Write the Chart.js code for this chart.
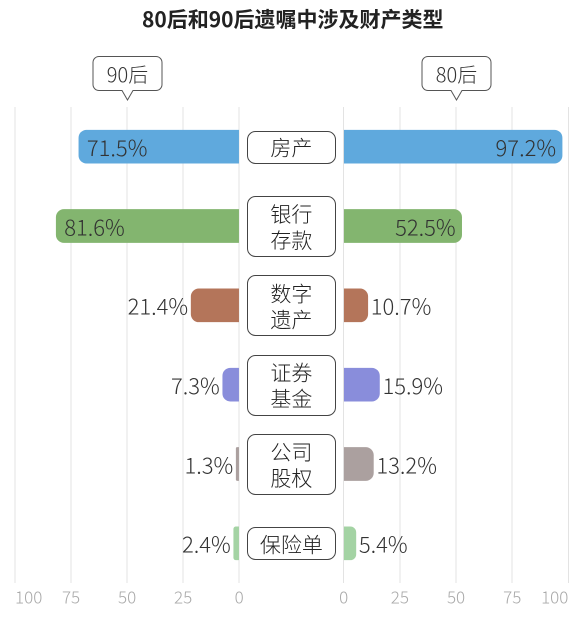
<!DOCTYPE html>
<html>
<head>
<meta charset="utf-8">
<script src="https://cdn.jsdelivr.net/npm/chart.js@4/dist/chart.umd.min.js"></script>
<style>
html,body{margin:0;padding:0;background:#fff;}
#wrap{width:586px;height:622px;}
</style>
</head>
<body>
<div id="wrap"><canvas id="c" width="586" height="622"></canvas></div>
<script>
// ---- data ----
const chartTitle = '80后和90后遗嘱中涉及财产类型';
const categoryLines = [['房产'], ['银行', '存款'], ['数字', '遗产'], ['证券', '基金'], ['公司', '股权'], ['保险单']];
const categories = categoryLines.map(l => l.join(''));
const seriesNames = ['90后', '80后'];
const values90 = [71.5, 81.6, 21.4, 7.3, 1.3, 2.4];
const values80 = [97.2, 52.5, 10.7, 15.9, 13.2, 5.4];
const barColors = ['#5fa9dd', '#83b56f', '#b4755a', '#898ddb', '#aba09f', '#a4d3a4'];
const tickValues = [0, 25, 50, 75, 100];
const calloutValue = 50;

const FONT = '"Noto Sans CJK SC", "Noto Sans", sans-serif';
const LIGHT = '300 ';

function fmt(v) { return v.toFixed(1) + '%'; }

function roundRect(ctx, x, y, w, h, r) {
  ctx.beginPath();
  ctx.moveTo(x + r, y);
  ctx.lineTo(x + w - r, y);
  ctx.arcTo(x + w, y, x + w, y + r, r);
  ctx.lineTo(x + w, y + h - r);
  ctx.arcTo(x + w, y + h, x + w - r, y + h, r);
  ctx.lineTo(x + r, y + h);
  ctx.arcTo(x, y + h, x, y + h - r, r);
  ctx.lineTo(x, y + r);
  ctx.arcTo(x, y, x + r, y, r);
  ctx.closePath();
}

const overlay = {
  id: 'overlay',
  beforeDraw(chart) {
    ['xL', 'xR'].forEach(id => {
      const s = chart.scales[id];
      if (!s || !s.getLabelItems) return;
      const items = s.getLabelItems(chart.chartArea);
      items.forEach(it => {
        if (it && it.options && it.label === '100') {
          it.options.textAlign = id === 'xL' ? 'left' : 'right';
        }
      });
    });
  },
  afterDatasetsDraw(chart) {
    const ctx = chart.ctx;
    const xL = chart.scales.xL, xR = chart.scales.xR, yS = chart.scales.y;
    ctx.save();
    // data labels
    ctx.font = LIGHT + '22px ' + FONT;
    ctx.fillStyle = '#333';
    ctx.textBaseline = 'middle';
    chart.getDatasetMeta(0).data.forEach((bar, i) => {
      const v = values90[i];
      const left = Math.min(bar.x, bar.base);
      if (v >= 50) { ctx.textAlign = 'left'; ctx.fillText(fmt(v), left + 8, bar.y + 1); }
      else { ctx.textAlign = 'right'; ctx.fillText(fmt(v), left - 3, bar.y + 1); }
    });
    chart.getDatasetMeta(1).data.forEach((bar, i) => {
      const v = values80[i];
      const right = Math.max(bar.x, bar.base);
      if (v >= 50) { ctx.textAlign = 'right'; ctx.fillText(fmt(v), right - 6, bar.y + 1); }
      else { ctx.textAlign = 'left'; ctx.fillText(fmt(v), right + 3, bar.y + 1); }
    });

    // center category boxes
    const cx = (xL.right + xR.left) / 2;
    categoryLines.forEach((lines, i) => {
      const cy = yS.getPixelForValue(i);
      const w = 88, h = lines.length === 1 ? 32 : 60;
      roundRect(ctx, Math.round(cx - w / 2) + 0.5, Math.round(cy - h / 2) + 0.5, w, h, 8);
      ctx.fillStyle = '#fff';
      ctx.fill();
      ctx.strokeStyle = '#444';
      ctx.lineWidth = 1;
      ctx.stroke();
      ctx.fillStyle = '#222';
      ctx.textAlign = 'center';
      ctx.font = LIGHT + '21px ' + FONT;
      const lh = 26;
      lines.forEach((t, k) => {
        ctx.fillText(t, cx, cy + (k - (lines.length - 1) / 2) * lh + 1);
      });
    });

    // series callouts
    const tipY = chart.chartArea.top - 7;
    [[xL, seriesNames[0]], [xR, seriesNames[1]]].forEach(([sc, name]) => {
      const px = Math.round(sc.getPixelForValue(calloutValue)) + 0.5;
      const w = 69, h = 34, bottom = tipY - 9.5, top = bottom - h;
      const x0 = px - w / 2, r = 6;
      ctx.beginPath();
      ctx.moveTo(x0 + r, top);
      ctx.lineTo(x0 + w - r, top);
      ctx.arcTo(x0 + w, top, x0 + w, top + r, r);
      ctx.lineTo(x0 + w, bottom - r);
      ctx.arcTo(x0 + w, bottom, x0 + w - r, bottom, r);
      ctx.lineTo(px + 5.5, bottom);
      ctx.lineTo(px, tipY);
      ctx.lineTo(px - 5.5, bottom);
      ctx.lineTo(x0 + r, bottom);
      ctx.arcTo(x0, bottom, x0, bottom - r, r);
      ctx.lineTo(x0, top + r);
      ctx.arcTo(x0, top, x0 + r, top, r);
      ctx.closePath();
      ctx.fillStyle = '#fff';
      ctx.fill();
      ctx.strokeStyle = '#555';
      ctx.lineWidth = 1;
      ctx.stroke();
      ctx.fillStyle = '#333';
      ctx.font = LIGHT + '20px ' + FONT;
      ctx.textAlign = 'center';
      ctx.textBaseline = 'middle';
      ctx.fillText(name, px, (top + bottom) / 2 + 1);
    });
    ctx.restore();
  }
};

function sideAxis(reverse, weight) {
  return {
    type: 'linear',
    position: 'bottom',
    reverse: reverse,
    min: 0,
    max: 100,
    stack: 'bottomStack',
    stackWeight: weight,
    afterBuildTicks: s => { s.ticks = tickValues.map(v => ({ value: v })); },
    grid: { color: '#e3e3e3', lineWidth: 1, drawTicks: false },
    border: { display: false },
    ticks: {
      padding: 4,
      color: '#a9a9a9',
      maxRotation: 0,
      autoSkip: false,
      font: { size: 17, family: FONT, weight: 300 },
      callback: v => String(v)
    }
  };
}

new Chart(document.getElementById('c'), {
  type: 'bar',
  data: {
    labels: categories,
    datasets: [
      {
        label: seriesNames[0],
        data: values90,
        xAxisID: 'xL',
        yAxisID: 'y',
        backgroundColor: barColors,
        borderRadius: 8,
        borderSkipped: 'start',
        barThickness: 33,
        grouped: false
      },
      {
        label: seriesNames[1],
        data: values80,
        xAxisID: 'xR',
        yAxisID: 'y',
        backgroundColor: barColors,
        borderRadius: 8,
        borderSkipped: 'start',
        barThickness: 33,
        grouped: false
      }
    ]
  },
  options: {
    indexAxis: 'y',
    responsive: false,
    animation: false,
    devicePixelRatio: 2,
    font: { family: FONT },
    layout: { padding: { left: 15, right: 15.5, top: 0, bottom: 10.6 } },
    scales: {
      y: { type: 'category', display: false, offset: true, grid: { display: false } },
      xL: sideAxis(true, 225),
      xM: {
        type: 'linear', position: 'bottom', min: 0, max: 1,
        stack: 'bottomStack', stackWeight: 105,
        grid: { display: false, drawTicks: false },
        ticks: { display: false },
        border: { display: false }
      },
      xR: sideAxis(false, 225.5)
    },
    plugins: {
      legend: { display: false },
      tooltip: { enabled: false },
      title: {
        display: true,
        text: chartTitle,
        color: '#222',
        font: { size: 21, weight: 'bold', family: FONT },
        padding: { top: 6.4, bottom: 75.4 }
      }
    }
  },
  plugins: [overlay]
});
</script>
</body>
</html>
